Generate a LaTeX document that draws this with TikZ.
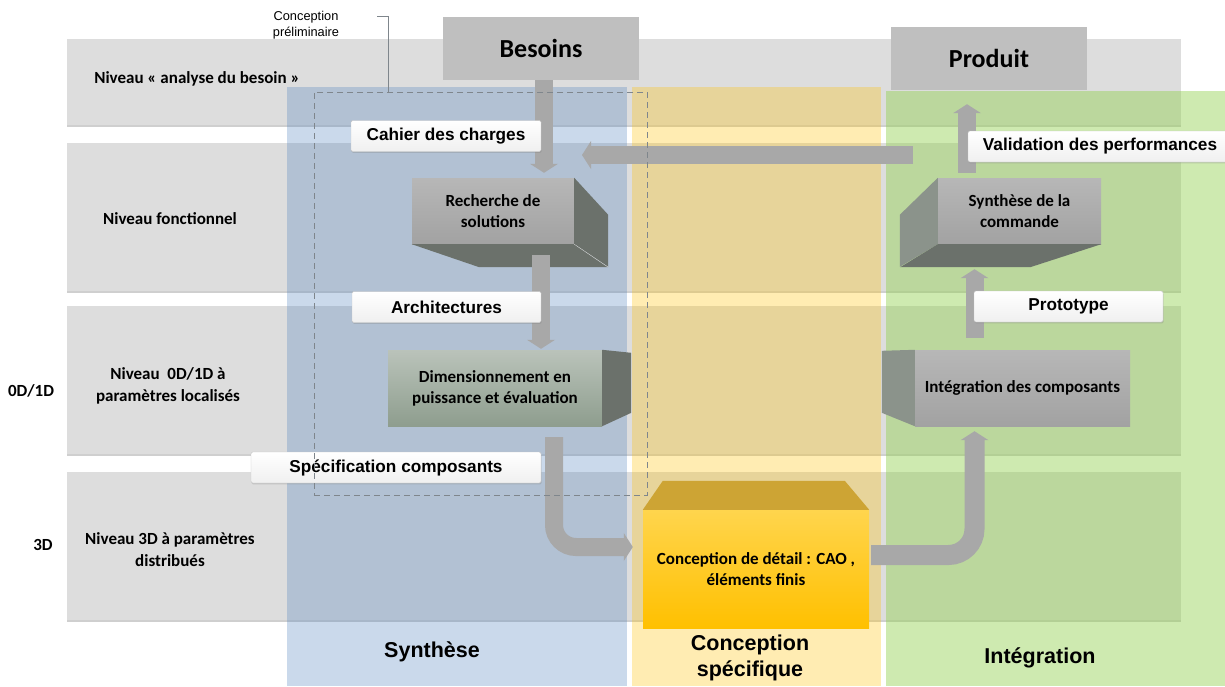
\documentclass[tikz,border=0pt]{standalone}
\usepackage{fontspec}
\setmainfont{Carlito}
\newfontfamily\arialfont{Liberation Sans}
\usepackage{tikz}
\usetikzlibrary{arrows.meta, calc, positioning, shadows}
\definecolor{bandgray}{HTML}{DDDDDD}
\definecolor{bandline}{HTML}{CFCFCF}
\definecolor{synthblue}{HTML}{4F81BD}
\definecolor{specgold}{HTML}{FFC000}
\definecolor{goldtop}{HTML}{FFD54D}
\definecolor{topgold}{HTML}{CDA434}
\definecolor{integgreen}{HTML}{92D050}
\definecolor{arrowgray}{HTML}{A8A8A8}
\definecolor{facedark}{HTML}{6B716B}
\definecolor{facelight}{HTML}{8B938B}
\definecolor{boxgray}{HTML}{BFBFBF}
\definecolor{blocktop}{HTML}{B7B7B7}
\definecolor{blockbot}{HTML}{A2A2A2}
\definecolor{dimtop}{HTML}{BAC3BA}
\definecolor{dimbot}{HTML}{8E9D8E}
\definecolor{dashgray}{HTML}{7F868C}
\tikzstyle{bandeau} = [fill=bandgray]
\tikzstyle{colonne} = [fill opacity=0.3]
\tikzstyle{niveau} = [align=center, font=\fontsize{17}{22}\selectfont\bfseries]
\tikzstyle{entete} = [rectangle, fill=boxgray, minimum width=196pt, minimum height=63pt, font=\fontsize{26}{30}\selectfont\bfseries]
\tikzstyle{bloc} = [rectangle, inner sep=0pt, align=center, top color=blocktop, bottom color=blockbot, font=\fontsize{17}{21}\selectfont\bfseries]
\tikzstyle{etiquette} = [rectangle, rounded corners=1.5pt, draw=black!22, top color=white, bottom color=black!6, minimum height=31pt, inner sep=0pt, font=\arialfont\fontsize{17.2}{20}\selectfont\bfseries, drop shadow={opacity=0.3, shadow xshift=0.6pt, shadow yshift=-1.4pt}]
\tikzstyle{fleche} = [line width=18pt, draw=arrowgray, -{Triangle[width=28pt, length=9pt, line width=0pt]}]
\tikzstyle{titre} = [align=center, font=\arialfont\fontsize{21.5}{26}\selectfont\bfseries]
\tikzstyle{prelim} = [rectangle, draw=dashgray, dash pattern=on 6pt off 4pt, inner sep=0pt]
\tikzstyle{remarque} = [align=center, font=\arialfont\fontsize{12.8}{16}\selectfont]
\tikzstyle{renvoi} = [draw=dashgray, thin]

\begin{document}
\begin{tikzpicture}[x=1pt, y=-1pt]
	\useasboundingbox (0,0) rectangle (1225,686);
	% niveaux
	\foreach \ytop/\ybot in {39/126, 143/292, 306/455, 472/621} {
		\fill[bandeau] (67,\ytop) rectangle (1181,\ybot);
		\draw[bandline, line width=1.5pt] (67,\ybot) -- (1181,\ybot);
	}
	% colonnes
	\fill[synthblue, colonne] (287,87) rectangle (627,686);
	\fill[specgold, colonne] (632,87) rectangle (881,686);
	\fill[integgreen, colonne, fill opacity=0.45] (886,91) rectangle (1225,686);

	\node (LvlBesoin) [niveau] at (197,79) {Niveau « analyse du besoin »};
	\node (LvlFonct) [niveau] at (170,219) {Niveau fonctionnel};
	\node (LvlZero) [niveau] at (168,386) {Niveau\ \ 0D/1D à\\paramètres localisés};
	\node (LvlTrois) [niveau] at (170,549.5) {Niveau 3D à paramètres\\distribués};
	\node (DimZero) [niveau] at (31,391) {0D/1D};
	\node (DimTrois) [niveau] at (43,545) {3D};

	\node (Besoins) [entete] at (541,48.5) {Besoins};
	\node (Produit) [entete] at (989,58.5) {Produit};

	% blocs 3D
	\node (Recherche) [bloc, minimum width=162pt, minimum height=66pt] at (493,211) {Recherche de\\solutions};
	\fill[facedark] (Recherche.north east) -- ++(34,37) -- ++(0,52) -- (Recherche.south east) -- cycle;
	\fill[facedark] (Recherche.south west) -- (Recherche.south east) -- ++(34,23) -- ++(-129,0) -- cycle;
	\draw[white!70!facedark, thin] (Recherche.south east) -- ++(34,23);
	\node (Commande) [bloc, minimum width=163pt, minimum height=66pt] at (1019.5,211) {Synthèse de la\\commande};
	\fill[facelight] (Commande.north west) -- ++(-38,37) -- ++(0,52) -- (Commande.south west) -- cycle;
	\fill[facedark] (Commande.south west) -- (Commande.south east) -- ++(-71,23) -- ++(-130,0) -- cycle;
	\node (Dimension) [bloc, top color=dimtop, bottom color=dimbot, minimum width=214pt, minimum height=76pt] at (495,388) {Dimensionnement en\\puissance et évaluation};
	\fill[facedark] (Dimension.north east) -- ++(29,3) -- ++(0,60) -- (Dimension.south east) -- cycle;
	\node (Composants) [bloc, minimum width=215pt, minimum height=76pt] at (1022.5,388) {Intégration des composants};
	\fill[facelight] (Composants.north west) -- ++(-33,1) -- ++(0,62) -- (Composants.south west) -- cycle;
	\node (Detail) [bloc, top color=goldtop, bottom color=specgold, minimum width=226pt, minimum height=118pt] at (756,569) {Conception de détail : CAO ,\\éléments finis};
	\fill[topgold] (Detail.north west) -- ++(20,-29) -- ++(182,0) -- (Detail.north east) -- cycle;

	% fleches
	\coordinate (RetourDepart) at (913,155);
	\coordinate (RetourFin) at (582,155);
	\draw [fleche] ($(Besoins.south)+(3,0)$) -- ($(Recherche.north)+(51,-5)$);
	\draw [fleche] ($(Recherche.south)+(48,11)$) -- ($(Dimension.north)+(46,-1)$);
	\draw [fleche] (RetourDepart) -- (RetourFin);
	\draw [fleche, rounded corners=22pt] ($(Dimension.south)+(59,11)$) |- ($(Detail.west)+(-10,-22)$);
	\draw [fleche, line width=20pt, rounded corners=26pt] ($(Detail.east)+(2,-14)$) -| ($(Composants.south)+(-48,5)$);
	\draw [fleche] ($(Composants.north)+(-48,-12)$) -- ($(Commande.south)+(-45,25)$);
	\draw [fleche] ($(Commande.north)+(-52.5,-5)$) -- ($(Produit.south)+(-22,14)$);

	% etiquettes
	\node (Cahier) [etiquette, minimum width=190pt] at (446,136) {Cahier des charges};
	\node (Archi) [etiquette, minimum width=189pt] at (446.5,307) {Architectures};
	\node (Specif) [etiquette, minimum width=290pt] at (396,467.5) {Spécification composants};
	\node (Proto) [etiquette, minimum width=189pt] at (1068.5,306.5) {Prototype};
	\node (Valid) [etiquette, minimum width=264pt] at (1100,146.5) {Validation des performances};

	\node (Synthese) [titre] at (432,652) {Synthèse};
	\node (Specifique) [titre] at (750,658) {Conception\\spécifique};
	\node (Integration) [titre] at (1040,658) {Intégration};

	% conception preliminaire
	\node (PrelimBox) [prelim, minimum width=333pt, minimum height=403pt] at (480.5,293.5) {};
	\node (Prelim) [remarque] at (306,25) {Conception\\préliminaire};
	\coordinate (LeaderTop) at (377,16);
	\coordinate (LeaderFoot) at (388,92);
	\draw [renvoi] (LeaderTop) -| (LeaderFoot);
\end{tikzpicture}
\end{document}
